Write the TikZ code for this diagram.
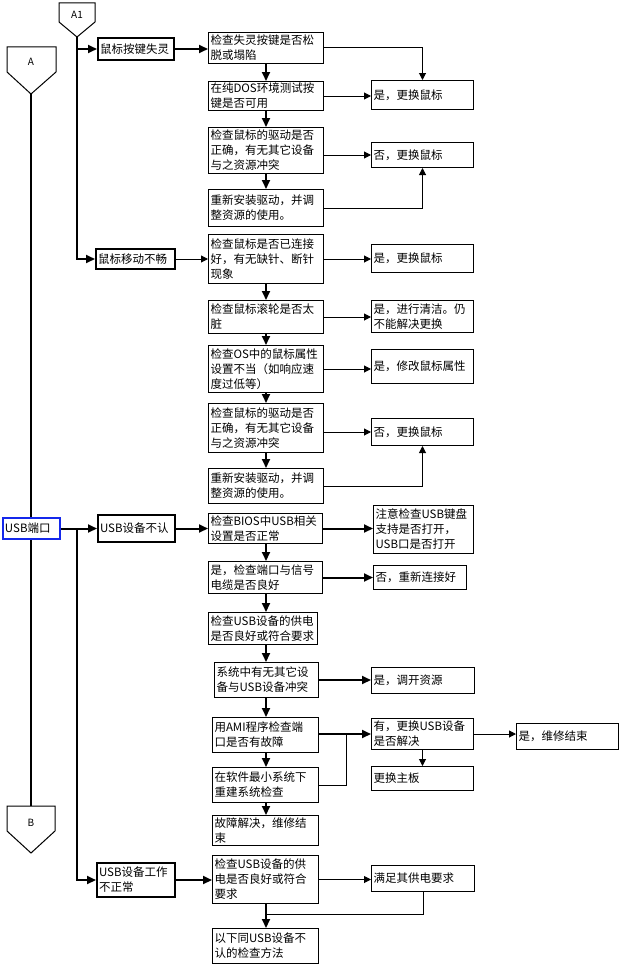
\documentclass[tikz,border=0pt]{standalone}
\usepackage{fontspec}
\setmainfont{Noto Sans CJK SC}
\usetikzlibrary{arrows.meta,calc}
\definecolor{usbblue}{RGB}{20,40,235}
\tikzset{
  base/.style={draw, line width=1pt, anchor=north west, inner xsep=2pt, inner ysep=1pt, align=left, font=\fontsize{11.5}{15}\selectfont},
  thickbox/.style={base, line width=2pt},
  bluebox/.style={base, draw=usbblue, line width=2pt},
  thinarr/.style={line width=1pt, -{Triangle[length=7pt,width=7pt]}},
  thkarr/.style={line width=2pt, -{Triangle[length=9pt,width=8pt]}},
  thinline/.style={line width=1pt},
  thkline/.style={line width=2pt},
  conlabel/.style={font=\fontsize{10}{12}\selectfont, inner sep=0pt}
}
\newcommand\bx[7]{\pgfmathsetmacro\bxtw{#4-4}\node[#6, minimum width=#4pt, minimum height=#5pt, text width=\bxtw pt] (#1) at (#2,#3) {#7};}
\begin{document}
\begin{tikzpicture}[x=1pt,y=-1pt]
\fill[white] (0,0) rectangle (620,966);
\useasboundingbox (0,0) rectangle (620,966);
\coordinate (colx) at (266,0);
\coordinate (j1) at (346,0);
\coordinate (j2) at (266,914);

% off-page connectors
\draw[thinline] (7,47) -- (56,47) -- (56,72) -- (31,94) -- (7,72) -- cycle;
\node[conlabel] (Alab) at (31,62) {A};
\coordinate (Abot) at (31,94);
\draw[thinline] (59,3) -- (95,3) -- (95,22) -- (77,37) -- (59,22) -- cycle;
\node[conlabel] (A1lab) at (77,15) {A1};
\coordinate (A1bot) at (77,37);
\draw[thinline] (7,806) -- (55,806) -- (55,831) -- (31,853) -- (7,831) -- cycle;
\node[conlabel] (Blab) at (31,823) {B};
\coordinate (Btop) at (31,806);

% left boxes
\bx{mouse1}{97}{37}{76}{22}{thickbox}{鼠标按键失灵}
\bx{mouse2}{95}{248}{79}{20}{thickbox}{鼠标移动不畅}
\bx{usbport}{2}{517}{57}{21}{bluebox}{USB端口}
\bx{usb1}{97}{514}{77}{27}{thickbox}{USB设备不认}
\bx{usb2}{96}{862}{78}{34}{thickbox}{USB设备工作\\不正常}

% mouse buttons group
\bx{c1}{208}{32}{115}{31}{base}{检查失灵按键是否松\\脱或塌陷}
\bx{c2}{208}{81}{115}{29}{base}{在纯DOS环境测试按\\键是否可用}
\bx{c3}{208}{127}{115}{46}{base}{检查鼠标的驱动是否\\正确，有无其它设备\\与之资源冲突}
\bx{c4}{208}{189}{115}{37}{base}{重新安装驱动，并调\\整资源的使用。}
\bx{r1}{371}{80}{102}{29}{base}{是，更换鼠标}
\bx{r2}{371}{142}{102}{25}{base}{否，更换鼠标}

% mouse movement group
\bx{c5}{208}{234}{115}{49}{base}{检查鼠标是否已连接\\好，有无缺针、断针\\现象}
\bx{c6}{208}{300}{115}{33}{base}{检查鼠标滚轮是否太\\脏}
\bx{c7}{208}{345}{115}{47}{base}{检查OS中的鼠标属性\\设置不当（如响应速\\度过低等）}
\bx{c8}{208}{403}{115}{49}{base}{检查鼠标的驱动是否\\正确，有无其它设备\\与之资源冲突}
\bx{c9}{208}{468}{115}{35}{base}{重新安装驱动，并调\\整资源的使用。}
\bx{r3}{371}{244}{102}{28}{base}{是，更换鼠标}
\bx{r4}{371}{300}{102}{32}{base}{是，进行清洁。仍\\不能解决更换}
\bx{r5}{371}{349}{102}{34}{base}{是，修改鼠标属性}
\bx{r6}{371}{418}{102}{27}{base}{否，更换鼠标}

% USB not recognised group
\bx{c10}{208}{513}{114}{30}{base}{检查BIOS中USB相关\\设置是否正常}
\bx{r7}{373}{505}{100}{48}{base}{注意检查USB键盘\\支持是否打开，\\USB口是否打开}
\bx{c11}{208}{561}{114}{32}{base}{是，检查端口与信号\\电缆是否良好}
\bx{r8}{373}{565}{93}{24}{base}{否，重新连接好}
\bx{c12}{208}{612}{109}{32}{base}{检查USB设备的供电\\是否良好或符合要求}
\bx{c13}{214}{662}{104}{35}{base}{系统中有无其它设\\备与USB设备冲突}
\bx{r9}{371}{667}{103}{26}{base}{是，调开资源}
\bx{c14}{212}{717}{106}{35}{base}{用AMI程序检查端\\口是否有故障}
\bx{c15}{212}{767}{106}{35}{base}{在软件最小系统下\\重建系统检查}
\bx{c16}{212}{815}{106}{30}{base}{故障解决，维修结\\束}
\bx{r10}{371}{718}{102}{31}{base}{有，更换USB设备\\是否解决}
\bx{r11}{371}{766}{102}{24}{base}{更换主板}
\bx{r12}{516}{723}{102}{26}{base}{是，维修结束}

% USB not working group
\bx{c17}{212}{855}{106}{48}{base}{检查USB设备的供\\电是否良好或符合\\要求}
\bx{r13}{371}{865}{103}{26}{base}{满足其供电要求}
\bx{c18}{212}{928}{106}{35}{base}{以下同USB设备不\\认的检查方法}

% left trunk connectors
\draw[thkline] (Abot) -- (Abot |- usbport.north);
\draw[thkline] (usbport.south -| Abot) -- (Btop);
\draw[thkarr] (A1bot) |- (mouse2.west);
\draw[thkarr] (A1bot |- mouse1.west) -- (mouse1.west);
\draw[thkarr] (usbport.east) -- (usb1.west);
\draw[thkarr] (usbport.east -| A1bot) |- (usb2.west);
\draw[thkarr] (mouse1.east) -- (mouse1.east -| c1.west);
\draw[thinarr] (mouse2.east) -- (mouse2.east -| c5.west);
\draw[thkarr] (usb1.east) -- (usb1.east -| c10.west);
\draw[thkarr] (usb2.east) -- (usb2.east -| c17.west);

% vertical chains
\foreach \a/\b in {c1/c2,c2/c3,c3/c4,c5/c6,c6/c7,c7/c8,c8/c9,c10/c11,c11/c12,c12/c13,c13/c14,c14/c15,c15/c16,c17/c18}
  \draw[thkarr] (\a.south -| colx) -- (\b.north -| colx);

% mouse buttons group side arrows
\draw[thinarr] (c1.east) -| (r1.north);
\draw[thinarr] (c2.east) -- (c2.east -| r1.west);
\draw[thinarr] (c3.east |- r2.west) -- (r2.west);
\draw[thinarr] (c4.east) -| (r2.south);

% mouse movement group side arrows
\draw[thinarr] (c5.east) -- (c5.east -| r3.west);
\draw[thinarr] (c6.east) -- (c6.east -| r4.west);
\draw[thinarr] (c7.east) -- (c7.east -| r5.west);
\draw[thinarr] (c8.east |- r6.west) -- (r6.west);
\draw[thinarr] (c9.east) -| (r6.south);

% USB not recognised side arrows
\draw[thkarr] (c10.east) -- (c10.east -| r7.west);
\draw[thkarr] (c11.east) -- (c11.east -| r8.west);
\draw[thkarr] (c13.east) -- (c13.east -| r9.west);
\draw[thkarr] (c14.east |- r10.west) -- (r10.west);
\draw[thinline] (c15.east) -| (j1 |- r10.west);
\draw[thinarr] (r10.east) -- (r10.east -| r12.west);
\draw[thinarr] (r10.south) -- (r11.north);

% USB not working side arrows
\draw[thinarr] (c17.east) -- (c17.east -| r13.west);
\draw[thinline] (r13.south) |- (j2);
\end{tikzpicture}
\end{document}
